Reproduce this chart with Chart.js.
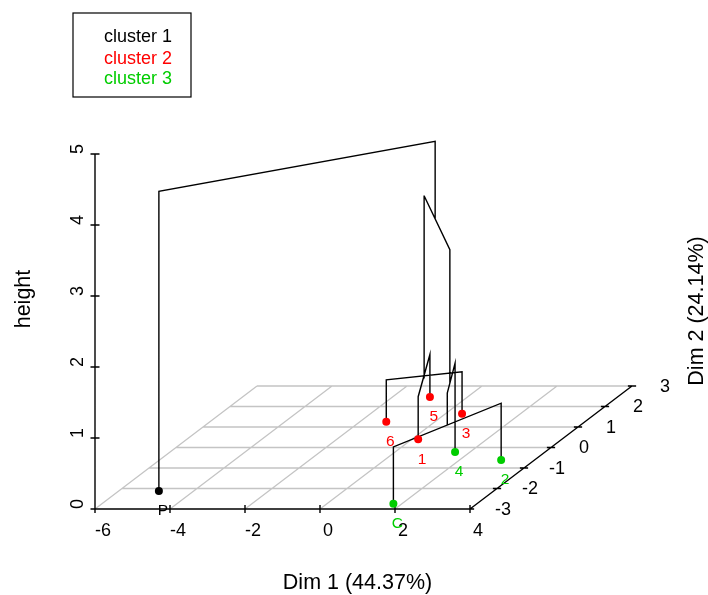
<!DOCTYPE html>
<html>
<head>
<meta charset="utf-8">
<style>
  body { margin: 0; background: #fff; }
  canvas { display: block; }
</style>
<script src="https://cdn.jsdelivr.net/npm/chart.js@4"></script>
</head>
<body>
<canvas id="chart" width="708" height="595"></canvas>
<script>
"use strict";

const leafNames = ["P", "C", "2", "4", "1", "5", "3", "6"];
const leafDim1 = [-4.93, 1.77, 3.11, 1.6, 0.17, -1.0, 0.44, -1.3];
const leafDim2 = [-2.12, -2.74, -0.61, -0.22, 0.4, 2.46, 1.65, 1.26];
const leafCluster = [0, 2, 2, 2, 1, 1, 1, 1];

// tree merges: ids below 8 are leaves, 8+ are earlier merges
const mergeLeft = [4, 7, 1, 10, 8, 12, 0];
const mergeRight = [5, 6, 2, 3, 9, 11, 13];
const mergeHeight = [0.6, 0.59, 0.8, 1.25, 3.13, 3.13, 4.22];

const clusterNames = ["cluster 1", "cluster 2", "cluster 3"];
const clusterColors = ["#000000", "#ff0000", "#00cd00"];

const dim1Ticks = [-6, -4, -2, 0, 2, 4];
const dim2Ticks = [-3, -2, -1, 0, 1, 2, 3];
const heightTicks = [0, 1, 2, 3, 4, 5];

// oblique projection of the back axis, same idea as scatterplot3d
const shiftX = 0.72;
const shiftY = 0.2887;
function project(d1, d2, h) {
  return { x: d1 + (d2 + 3) * shiftX, y: h + (d2 + 3) * shiftY };
}
const gap = { x: NaN, y: NaN };

// grey floor grid
const gridLines = [];
dim2Ticks.slice(1).forEach((d2) => {
  gridLines.push(project(-6, d2, 0), project(4, d2, 0), gap);
});
dim1Ticks.slice(0, -1).forEach((d1) => {
  gridLines.push(project(d1, -3, 0), project(d1, 3, 0), gap);
});

// axis lines and their little crossing ticks
const axisLines = [
  project(-6, -3, 0), project(4, -3, 0), gap,
  project(4, -3, 0), project(4, 3, 0), gap,
  project(-6, -3, 0), project(-6, -3, 5), gap,
];
dim1Ticks.forEach((d1) => {
  axisLines.push({ x: d1, y: -0.055 }, { x: d1, y: 0.055 }, gap);
});
heightTicks.forEach((h) => {
  axisLines.push({ x: -6.12, y: h }, { x: -5.88, y: h }, gap);
});
dim2Ticks.forEach((d2) => {
  const p = project(4, d2, 0);
  axisLines.push({ x: p.x - 0.11, y: p.y }, { x: p.x + 0.11, y: p.y }, gap);
});

// dendrogram: every node sits at the centroid of its leaves
const nodes = leafDim1.map((d1, i) => ({ d1: d1, d2: leafDim2[i], h: 0, n: 1 }));
const treeLines = [];
mergeLeft.forEach((left, i) => {
  const a = nodes[left];
  const b = nodes[mergeRight[i]];
  const h = mergeHeight[i];
  const n = a.n + b.n;
  treeLines.push(
    project(a.d1, a.d2, a.h),
    project(a.d1, a.d2, h),
    project(b.d1, b.d2, h),
    project(b.d1, b.d2, b.h),
    gap
  );
  nodes.push({ d1: (a.d1 * a.n + b.d1 * b.n) / n, d2: (a.d2 * a.n + b.d2 * b.n) / n, h: h, n: n });
});

const leafPoints = leafNames.map((n, i) => project(leafDim1[i], leafDim2[i], 0));

const textPlugin = {
  id: "textPlugin",
  afterDatasetsDraw(chart) {
    const ctx = chart.ctx;
    const xs = chart.scales.x;
    const ys = chart.scales.y;
    ctx.save();
    ctx.textBaseline = "middle";
    ctx.textAlign = "center";

    // leaf labels below the points
    ctx.font = "15.5px 'Liberation Sans'";
    leafNames.forEach((name, i) => {
      ctx.fillStyle = clusterColors[leafCluster[i]];
      ctx.fillText(name, xs.getPixelForValue(leafPoints[i].x) + 4, ys.getPixelForValue(leafPoints[i].y) + 20);
    });

    // back axis tick labels
    ctx.fillStyle = "#000";
    ctx.font = "18px 'Liberation Sans'";
    dim2Ticks.forEach((d2) => {
      const p = project(4, d2, 0);
      ctx.fillText(String(d2), xs.getPixelForValue(p.x) + 33, ys.getPixelForValue(p.y) + 1);
    });

    // back axis title
    ctx.font = "21.5px 'Liberation Sans'";
    ctx.save();
    ctx.translate(697, 311);
    ctx.rotate(-Math.PI / 2);
    ctx.fillText("Dim 2 (24.14%)", 0, 0);
    ctx.restore();

    // legend
    ctx.strokeStyle = "#000";
    ctx.lineWidth = 1.2;
    ctx.strokeRect(73, 13, 118, 84);
    ctx.textAlign = "left";
    ctx.font = "18px 'Liberation Sans'";
    [37, 59, 79].forEach((y, i) => {
      ctx.fillStyle = clusterColors[i];
      ctx.fillText(clusterNames[i], 104, y);
    });
    ctx.restore();
  },
};

new Chart(document.getElementById("chart"), {
  type: "scatter",
  data: {
    datasets: [
      { data: gridLines, showLine: true, borderColor: "#c4c4c4", borderWidth: 1.3, pointRadius: 0, clip: false, order: 3 },
      { data: axisLines, showLine: true, borderColor: "#000", borderWidth: 1.4, pointRadius: 0, clip: false, order: 2 },
      { data: treeLines, showLine: true, borderColor: "#000", borderWidth: 1.4, pointRadius: 0, clip: false, order: 1 },
      {
        data: leafPoints,
        showLine: false,
        pointRadius: 4,
        pointBorderWidth: 0,
        pointBackgroundColor: leafCluster.map((c) => clusterColors[c]),
        clip: false,
        order: 0,
      },
    ],
  },
  options: {
    responsive: false,
    animation: false,
    layout: { padding: { left: 0, right: 88, top: 89, bottom: 0 } },
    plugins: { legend: { display: false }, tooltip: { enabled: false } },
    scales: {
      x: {
        type: "linear",
        min: -6,
        max: 8,
        afterBuildTicks(axis) {
          axis.ticks = dim1Ticks.map((v) => ({ value: v }));
        },
        afterFit(axis) {
          axis.height = 86;
        },
        grid: { display: false },
        border: { display: false },
        ticks: { color: "#000", font: { family: "Liberation Sans", size: 18 }, padding: 3, labelOffset: 8, maxRotation: 0 },
        title: {
          display: true,
          text: "Dim 1 (44.37%)",
          color: "#000",
          font: { family: "Liberation Sans", size: 21.5, lineHeight: 1.1 },
          padding: { top: 0, bottom: 0 },
        },
      },
      y: {
        type: "linear",
        min: 0,
        max: 5.915,
        afterBuildTicks(axis) {
          axis.ticks = heightTicks.map((v) => ({ value: v }));
        },
        afterFit(axis) {
          axis.width = 95;
        },
        grid: { display: false },
        border: { display: false },
        ticks: {
          color: "#000",
          font: { family: "Liberation Sans", size: 18 },
          minRotation: 90,
          maxRotation: 90,
          crossAlign: "center",
          padding: 4,
          labelOffset: -5,
        },
        title: {
          display: true,
          text: "height",
          color: "#000",
          font: { family: "Liberation Sans", size: 21.5 },
          padding: { top: 11, bottom: 0 },
        },
      },
    },
  },
  plugins: [textPlugin],
});
</script>
</body>
</html>
